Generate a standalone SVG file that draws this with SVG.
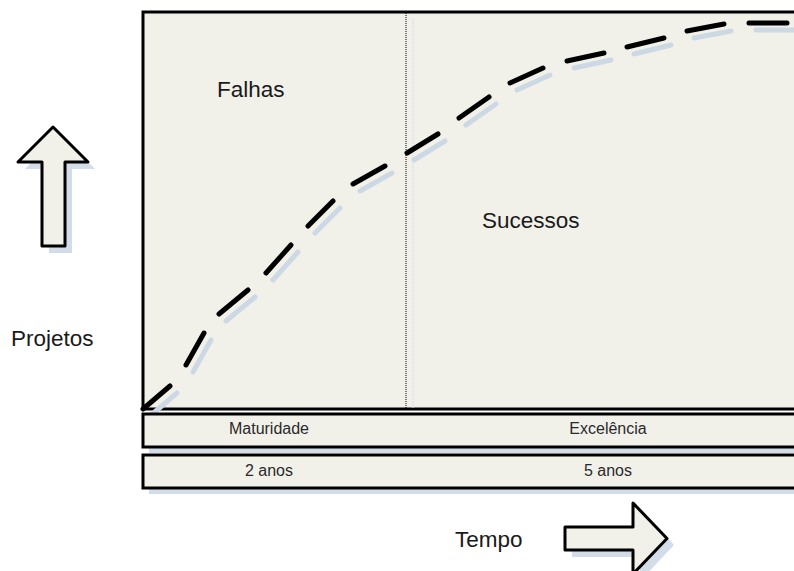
<svg xmlns="http://www.w3.org/2000/svg" width="794" height="571" viewBox="0 0 794 571">
  <style>
    .panel { fill: #f1f1ea; stroke: #000; stroke-width: 3; }
    .shadow { fill: #d3dce9; stroke: none; }
    .big { font-family: "Liberation Sans", Arial, sans-serif; font-size: 22.5px; fill: #1a1a1a; }
    .small { font-family: "Liberation Sans", Arial, sans-serif; font-size: 16px; fill: #2a2a2a; text-anchor: middle; }
    .curve { fill: none; stroke: #000; stroke-width: 5; stroke-linecap: round; }
    .curve-shadow { fill: none; stroke: #cdd8e5; stroke-width: 5; stroke-linecap: round; }
  </style>
  <defs>
    <path id="curveDashes" d="M143,409 L170,386 M186,365 L204,333 M219,314 L248,290 M266,273 L291,245 M308,226 L333,201 M353,184 L385,166 M407,153 L438,134 M459,118 L489,97 M510,83 L543,68 M567,61 L604,53 M627,47 L664,38 M687,31 L724,24 M749,23 L787,23"/>
  </defs>
  <rect width="794" height="571" fill="#ffffff"/>

  <!-- main chart panel -->
  <g id="chart">
    <rect class="panel" x="143" y="12" width="700" height="397"/>
    <line x1="413" y1="19" x2="413" y2="409" stroke="#c9d5e6" stroke-width="1" stroke-dasharray="1 1"/>
    <line x1="406" y1="13" x2="406" y2="408" stroke="#000" stroke-width="1" stroke-dasharray="1 1"/>
  </g>

  <!-- maturity curve -->
  <g id="connectors">
    <use href="#curveDashes" class="curve-shadow" transform="translate(7,7)"/>
    <use href="#curveDashes" class="curve"/>
  </g>

  <g id="label-falhas">
    <text class="big" x="217" y="97">Falhas</text>
  </g>
  <g id="label-sucessos">
    <text class="big" x="482" y="228">Sucessos</text>
  </g>

  <!-- phase bar -->
  <g id="phase-bar">
    <rect class="shadow" x="149" y="420" width="700" height="33"/>
    <rect class="panel" x="143" y="414" width="700" height="33"/>
    <text class="small" x="269" y="434">Maturidade</text>
    <text class="small" x="608" y="434">Excelência</text>
  </g>

  <!-- duration bar -->
  <g id="duration-bar">
    <rect class="shadow" x="149" y="461" width="700" height="33"/>
    <rect class="panel" x="143" y="455" width="700" height="33"/>
    <text class="small" x="269" y="476">2 anos</text>
    <text class="small" x="608" y="476">5 anos</text>
  </g>

  <!-- vertical axis arrow -->
  <g id="arrow-projetos">
    <polygon class="shadow" points="60,134 95,169 72,169 72,253 49,253 49,169 25,169"/>
    <polygon class="panel" stroke-width="2.5" stroke-linejoin="round" points="53,127 88,162 65,162 65,246 42,246 42,162 18,162"/>
    <text class="big" x="11" y="346">Projetos</text>
  </g>

  <!-- horizontal axis arrow -->
  <g id="arrow-tempo">
    <polygon class="shadow" points="572,533 640,533 640,509 674,545 640,581 640,557 572,557"/>
    <polygon class="panel" stroke-width="2.5" stroke-linejoin="round" points="565,527 633,527 633,503 667,538.5 633,574 633,550 565,550"/>
    <text class="big" x="455" y="547">Tempo</text>
  </g>
</svg>
